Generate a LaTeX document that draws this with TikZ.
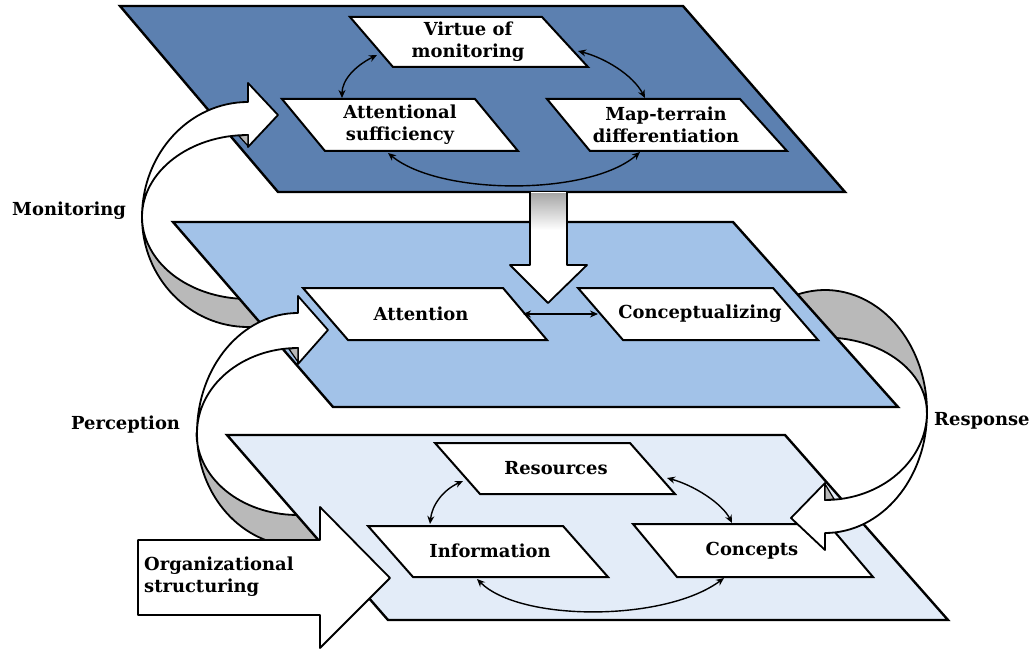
\documentclass[tikz,border=0pt]{standalone}
\usepackage{fontspec}
\setmainfont{DejaVu Serif}
\usetikzlibrary{arrows.meta}
\definecolor{topblue}{RGB}{92,128,176}
\definecolor{midblue}{RGB}{162,194,232}
\definecolor{lowblue}{RGB}{227,236,248}
\definecolor{ribgray}{RGB}{185,185,185}
\begin{document}
\begin{tikzpicture}[x=1bp,y=-1bp,
  plane/.style={draw=black,line width=2.4bp,line join=miter},
  box/.style={draw=black,fill=white,line width=2bp},
  lbl/.style={font=\fontsize{18}{22}\selectfont\bfseries,align=center,inner sep=0pt},
  link/.style={line width=1.4bp,{Stealth[length=8bp,width=7bp]}-{Stealth[length=8bp,width=7bp]}},
  rib/.style={draw=black,line width=1.8bp,line join=round},
  ribback/.style={rib,fill=ribgray},
  ribfront/.style={rib,fill=white}]
\useasboundingbox (0,0) rectangle (1031,650);
% ribbon back faces (behind planes)
\draw[ribback] (142,217) arc[start angle=180,end angle=60,x radius=106,y radius=110]
  -- (301,288) arc[start angle=60,end angle=180,x radius=106,y radius=82] -- cycle;
\draw[ribback] (927,412) arc[start angle=0,end angle=-110,x radius=102,y radius=122]
  -- (790,342) arc[start angle=-110,end angle=0,x radius=102,y radius=75] -- cycle;
\draw[ribback] (197,433) arc[start angle=180,end angle=60,x radius=101,y radius=113]
  -- (348,504) arc[start angle=60,end angle=180,x radius=101,y radius=82] -- cycle;
% planes
\draw[plane,fill=topblue] (120,6) -- (683,6) -- (845,192) -- (278,192) -- cycle;
\draw[plane,fill=midblue] (173,222) -- (733,222) -- (898,407) -- (333,407) -- cycle;
\draw[plane,fill=lowblue] (227,435) -- (785,435) -- (948,620) -- (388,620) -- cycle;
% boxes
\draw[box] (350,17) -- (542,17) -- (588,67) -- (393,67) -- cycle;
\draw[box] (282,99) -- (475,99) -- (518,151) -- (325,151) -- cycle;
\draw[box] (547,99) -- (740,99) -- (787,151) -- (590,151) -- cycle;
\draw[box] (303,288) -- (503,288) -- (547,340) -- (348,340) -- cycle;
\draw[box] (578,288) -- (773,288) -- (818,340) -- (623,340) -- cycle;
\draw[box] (435,443) -- (630,443) -- (675,494) -- (480,494) -- cycle;
\draw[box] (368,526) -- (563,526) -- (608,577) -- (413,577) -- cycle;
\draw[box] (633,524) -- (828,524) -- (873,577) -- (677,577) -- cycle;
\node[lbl] (vir) at (468,42) {Virtue of\\monitoring};
\node[lbl] (att) at (400,125) {Attentional\\sufficiency};
\node[lbl] (map) at (666,125) {Map-terrain\\differentiation};
\node[lbl] (atn) at (421,314) {Attention};
\node[lbl] (con) at (700,314) {Conceptualizing};
\node[lbl] (res) at (556,468) {Resources};
\node[lbl] (inf) at (490,551) {Information};
\node[lbl] (cpt) at (752,551) {Concepts};
% link end points
\coordinate (virL) at (377,55);  \coordinate (attT) at (342,98);
\coordinate (virR) at (578,51);  \coordinate (mapT) at (645,98);
\coordinate (attB) at (388,153); \coordinate (mapB) at (640,152);
\coordinate (atnR) at (523,314); \coordinate (conL) at (598,314);
\coordinate (resL) at (463,481); \coordinate (infT) at (430,524);
\coordinate (resR) at (667,478); \coordinate (cptT) at (732,523);
\coordinate (infB) at (477,579); \coordinate (cptB) at (724,578);
\draw[link] (virL) .. controls (355,66) and (342,80) .. (attT);
\draw[link] (virR) .. controls (605,58) and (633,75) .. (mapT);
\draw[link] (attB) .. controls (440,196) and (590,196) .. (mapB);
\draw[link] (atnR) -- (conL);
\draw[link] (resL) .. controls (443,490) and (432,505) .. (infT);
\draw[link] (resR) .. controls (693,485) and (722,503) .. (cptT);
\draw[link] (infB) .. controls (520,622) and (665,622) .. (cptB);
% down arrow
\fill[white] (530,192) -- (530,265) -- (510,265) -- (548,303) -- (587,265) -- (567,265) -- (567,192) -- cycle;
\shade[top color=ribgray!90!black,bottom color=white] (531,193) rectangle (566,230);
\draw[rib] (530,192) -- (530,265) -- (510,265) -- (548,303) -- (587,265) -- (567,265) -- (567,192);
% ribbon front faces
\draw[ribfront] (248,102) arc[start angle=270,end angle=180,x radius=106,y radius=115]
  arc[start angle=180,end angle=270,x radius=106,y radius=82] -- (248,147) -- (278,115) -- (248,83) -- cycle;
\draw[rib,fill=ribgray,line width=1.2bp] (239,136) -- (248,135) -- (248,146) -- cycle;
\draw[ribfront] (298,313) arc[start angle=270,end angle=180,x radius=101,y radius=120]
  arc[start angle=180,end angle=270,x radius=101,y radius=85] -- (298,364) -- (328,330) -- (298,296) -- cycle;
\draw[rib,fill=ribgray,line width=1.2bp] (289,349) -- (298,348) -- (298,362) -- cycle;
\draw[ribfront] (927,412) arc[start angle=0,end angle=90,x radius=102,y radius=121]
  -- (825,550) -- (791,518) -- (825,483) -- (825,500)
  arc[start angle=90,end angle=0,x radius=102,y radius=88] -- cycle;
\draw[rib,fill=ribgray,line width=1.2bp] (825,484) -- (825,500) -- (834,499) -- cycle;
% organizational structuring arrow
\draw[ribfront] (138,540) -- (320,540) -- (320,507) -- (390,578) -- (320,648) -- (320,615) -- (138,615) -- cycle;
\node[lbl,anchor=west,align=left] (org) at (144,577) {Organizational\\structuring};
% side labels
\node[lbl,anchor=west] (mon) at (12,211) {Monitoring};
\node[lbl,anchor=west] (per) at (71,425) {Perception};
\node[lbl,anchor=west] (rsp) at (934,421) {Response};
\end{tikzpicture}
\end{document}
